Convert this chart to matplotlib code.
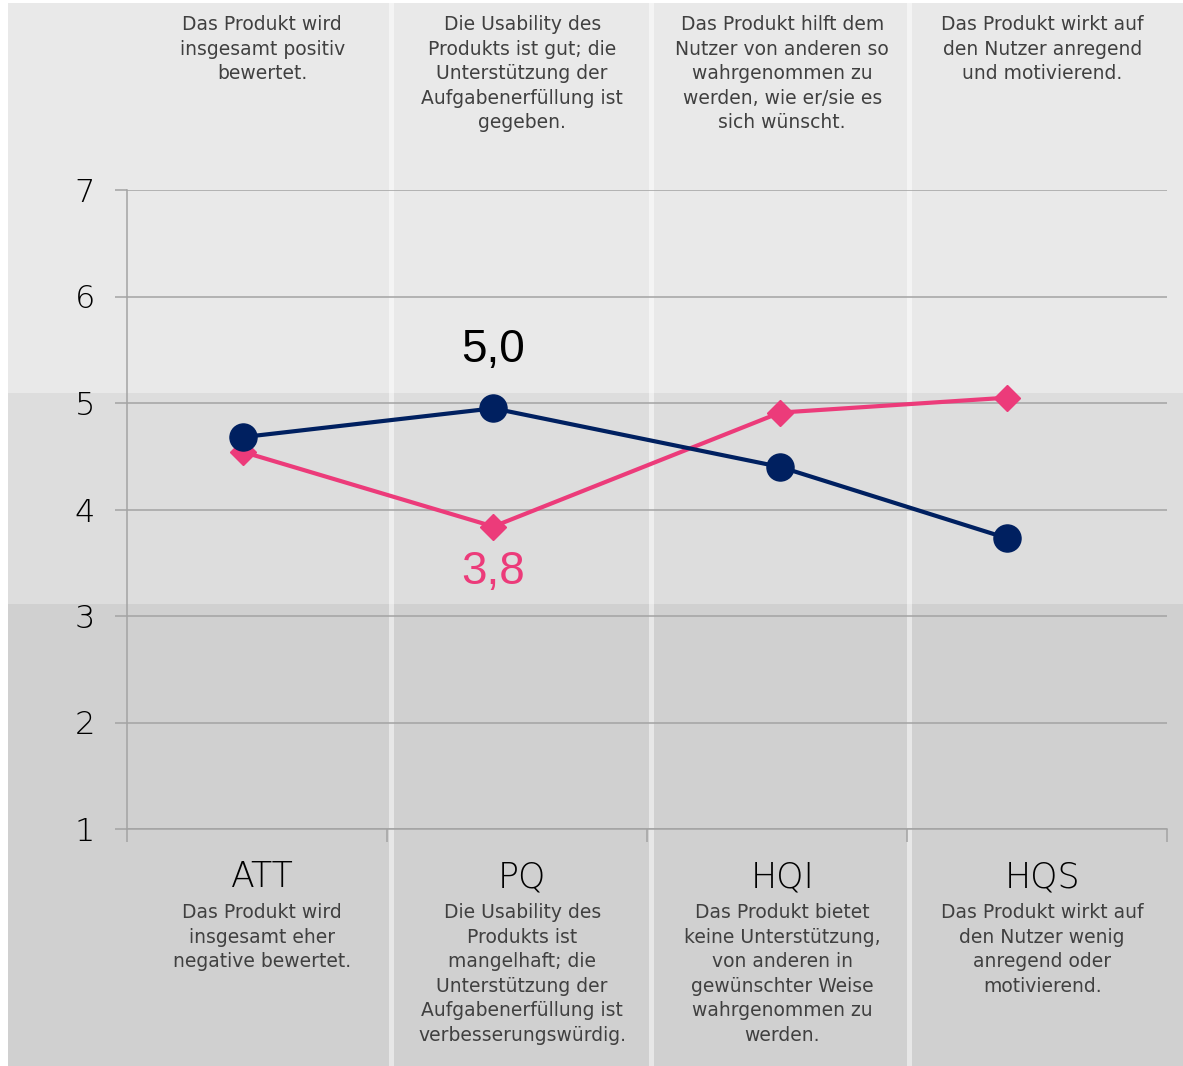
import numpy as np
import matplotlib.pyplot as plt
from matplotlib.patches import Rectangle
from matplotlib.transforms import blended_transform_factory

plt.rcParams['font.family'] = ['DejaVu Sans']

# Daten
skalen = ['ATT', 'PQ', 'HQI', 'HQS']
x_pos = [0.447, 1.409, 2.512, 3.385]
werte_blau = [4.68, 4.95, 4.40, 3.73]
werte_pink = [4.54, 3.84, 4.91, 5.05]
label_blau = '5,0'
label_pink = '3,8'

text_oben = [
    'Das Produkt wird\ninsgesamt positiv\nbewertet.',
    'Die Usability des\nProdukts ist gut; die\nUnterstützung der\nAufgabenerfüllung ist\ngegeben.',
    'Das Produkt hilft dem\nNutzer von anderen so\nwahrgenommen zu\nwerden, wie er/sie es\nsich wünscht.',
    'Das Produkt wirkt auf\nden Nutzer anregend\nund motivierend.',
]
text_unten = [
    'Das Produkt wird\ninsgesamt eher\nnegative bewertet.',
    'Die Usability des\nProdukts ist\nmangelhaft; die\nUnterstützung der\nAufgabenerfüllung ist\nverbesserungswürdig.',
    'Das Produkt bietet\nkeine Unterstützung,\nvon anderen in\ngewünschter Weise\nwahrgenommen zu\nwerden.',
    'Das Produkt wirkt auf\nden Nutzer wenig\nanregend oder\nmotivierend.',
]

blau = '#002060'
pink = '#EC3B7A'
W, H = 1183, 1066

fig = plt.figure(figsize=(W / 100, H / 100), dpi=100)
fig.patch.set_facecolor('white')

# Hintergrund: drei Bänder + weiße Trennlinien
bg = fig.add_axes([0, 0, 1, 1])
bg.set_xlim(0, W)
bg.set_ylim(H, 0)
bg.axis('off')
bg.add_patch(Rectangle((8, 3), W - 8, 390, color='#E9E9E9', lw=0))
bg.add_patch(Rectangle((8, 393), W - 8, 211, color='#DDDDDD', lw=0))
bg.add_patch(Rectangle((8, 604), W - 8, H - 604, color='#D0D0D0', lw=0))
for xs in [392, 652, 910]:
    bg.add_patch(Rectangle((xs - 2.5, 3), 5, H - 3, color='white', alpha=0.5, lw=0))

ax = fig.add_axes([127 / W, 1 - 829 / H, (1167 - 127) / W, (829 - 190) / H])
ax.patch.set_alpha(0)
ax.set_xlim(0, 4)
ax.set_ylim(1, 7)

ax.set_yticks(range(1, 8))
ax.yaxis.grid(True, color='#A3A3A3', lw=1.1)
ax.set_axisbelow(True)
ax.tick_params(axis='y', length=9, width=1.1, color='#A3A3A3', pad=14,
               labelsize=23, labelcolor='black')
for t in ax.get_yticklabels():
    t.set_fontweight('light')
ax.set_xticks(range(0, 5))
ax.set_xticklabels([])
ax.tick_params(axis='x', length=9, width=1.1, color='#A3A3A3')
for s in ['top', 'right']:
    ax.spines[s].set_visible(False)
for s in ['left', 'bottom']:
    ax.spines[s].set_color('#A3A3A3')
    ax.spines[s].set_linewidth(1.1)

ax.plot(x_pos, werte_pink, color=pink, lw=3, marker='D', ms=13.5, zorder=3)
ax.plot(x_pos, werte_blau, color=blau, lw=3, marker='o', ms=19.5, zorder=4)

ax.annotate(label_blau, (x_pos[1], werte_blau[1]), xytext=(0, 42),
            textcoords='offset points', ha='center', va='center',
            fontsize=33, color='black', family='Liberation Sans')
ax.annotate(label_pink, (x_pos[1], werte_pink[1]), xytext=(0, -33),
            textcoords='offset points', ha='center', va='center',
            fontsize=33, color=pink, family='Liberation Sans')

trans = blended_transform_factory(ax.transData, fig.transFigure)
for i, name in enumerate(skalen):
    xc = i + 0.52
    fig.text(xc, 1 - 15 / H, text_oben[i], transform=trans, ha='center', va='top',
             fontsize=13.5, color='#404040', linespacing=1.37)
    fig.text(xc, 1 - 860 / H, name, transform=trans, ha='center', va='top',
             fontsize=25, color='black', fontweight='light')
    fig.text(xc, 1 - 903 / H, text_unten[i], transform=trans, ha='center', va='top',
             fontsize=13.5, color='#404040', linespacing=1.37)

fig.savefig('out.png', dpi=100)
